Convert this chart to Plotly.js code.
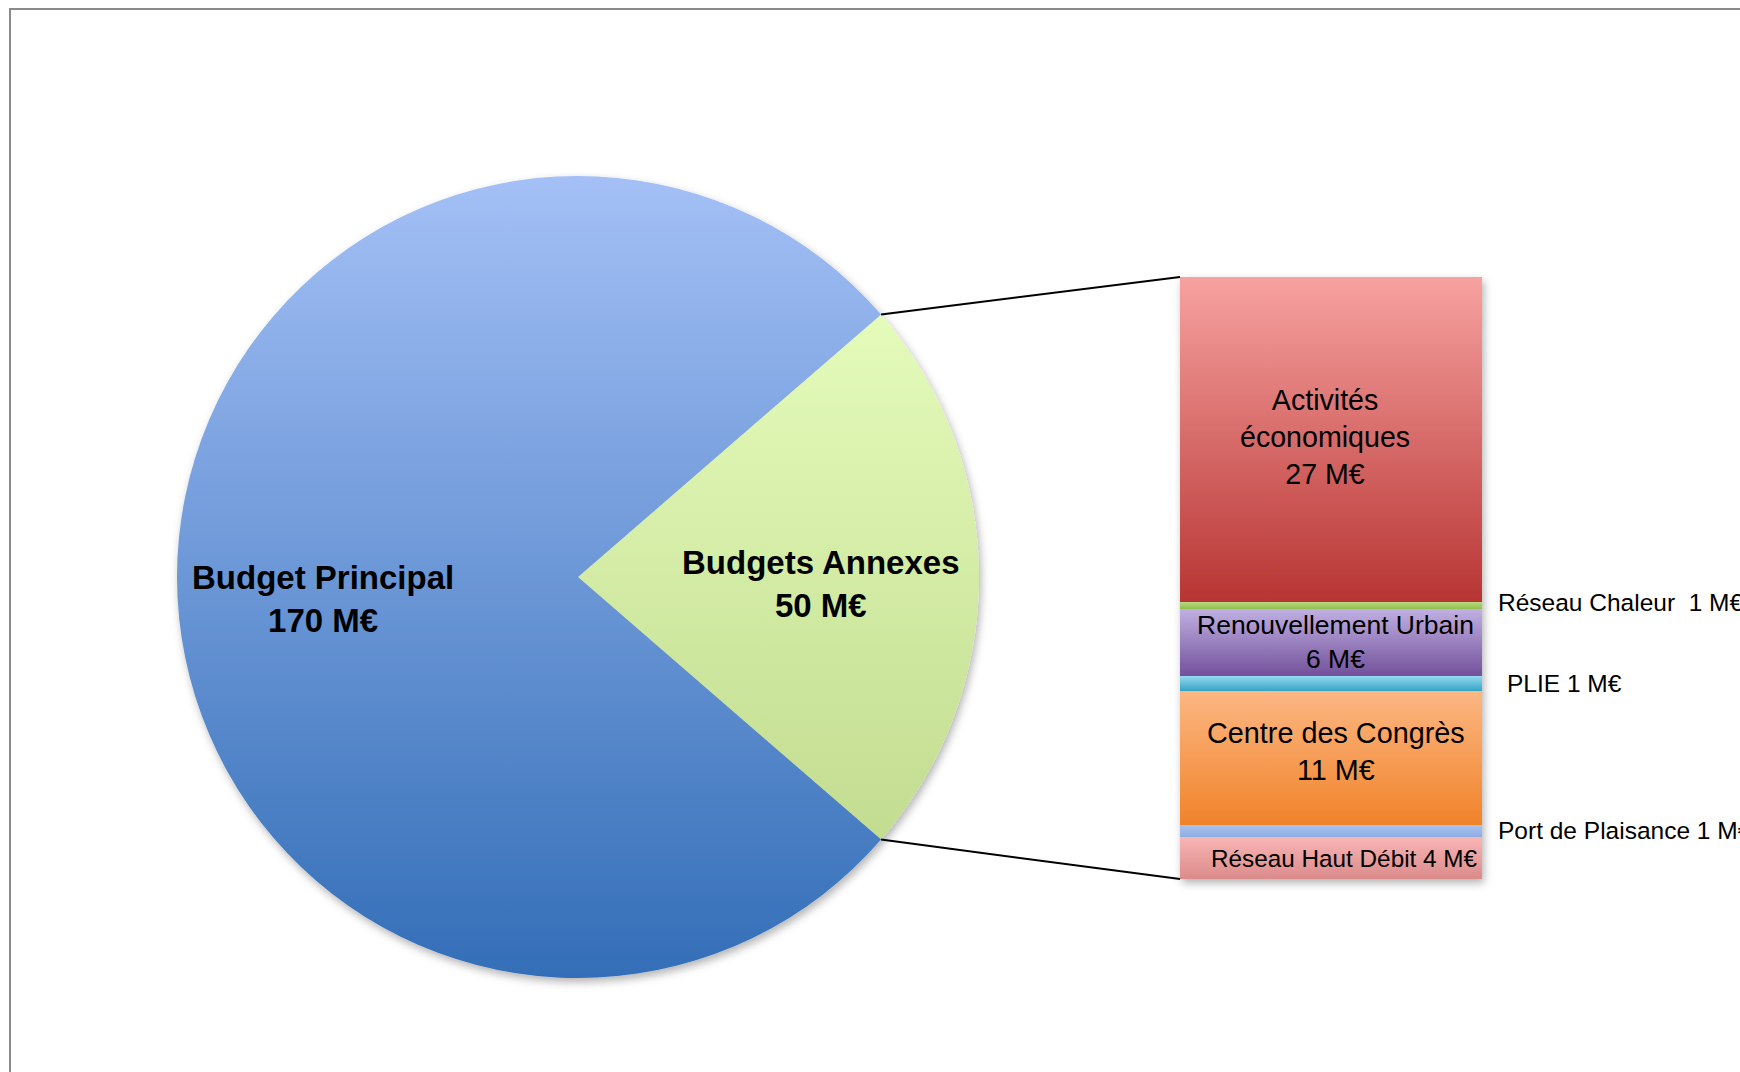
<!DOCTYPE html>
<html><head><meta charset="utf-8">
<script src="https://cdn.plot.ly/plotly-3.0.1.min.js"></script>
<style>html,body{margin:0;padding:0;background:#fff}</style>
</head><body><div id="chart" style="width:1740px;height:1072px"></div>
<script>
// ---- data ----
const pieLabels = ['Budgets Annexes', 'Budget Principal'];
const pieValues = [50, 170];
const pieText = ['Budgets Annexes<br>50 M€', 'Budget Principal<br>170 M€'];

// stacked bar (detail of "Budgets Annexes"), bottom to top
const barLabels = ['Réseau Haut Débit', 'Port de Plaisance', 'Centre des Congrès', 'PLIE',
                   'Renouvellement Urbain', 'Réseau Chaleur', 'Activités économiques'];
const barValues = [3.6, 1.0, 11.4, 1.2, 5.7, 0.6, 27.6];
const barText = ['Réseau Haut Débit 4 M€', 'Port de Plaisance 1 M€', 'Centre des Congrès<br>11 M€',
                 'PLIE 1 M€', 'Renouvellement Urbain<br>6 M€', 'Réseau Chaleur\u00a0 1 M€',
                 'Activités<br>économiques<br>27 M€'];

// ---- styles ----
const W = 1740, H = 1072;
const FONT = 'Liberation Sans, Arial, sans-serif';
const pieGrad = [['#e4fbba', '#c2dc90'], ['#a4c0f6', '#336eb7']];
const barGrad = [['#f9b6b5', '#da8b8a'], ['#a9c3ef', '#8eaee4'], ['#fcb783', '#f1832a'],
                 ['#92d8f0', '#38a5c5'], ['#c0b0e2', '#72509a'], ['#b6d97e', '#8fbe4c'],
                 ['#f7a2a0', '#b73533']];
const barPlace = ['insideRight', 'outside', 'inside', 'outside', 'inside', 'outside', 'inside'];
const barFontSize = [24.3, 24.5, 28.8, 24.5, 26.5, 24.5, 28.6];
const barXShift = [0, 0, 5, 0, 4, 0, -6];
const barYShift = [-1, 0, 6, 0, 1, 3, 3];
const outsideXShift = [0, 0, 0, 9, 0, 0, 0];

const pieDom = {x: [177 / W, 979 / W], y: [94 / H, 896 / H]};
const barDomX = [1180 / W, 1482 / W];
const barDomY = [(H - 879) / H, (H - 277) / H];

const sum = c => c.reduce((a, b) => a + b, 0);
const pieTotal = sum(pieValues);
const barTotal = sum(barValues);

const data = [{
  type: 'pie', labels: pieLabels, values: pieValues, sort: false,
  direction: 'clockwise', rotation: 90 - 180 * pieValues[0] / pieTotal,
  domain: pieDom, textinfo: 'none', hoverinfo: 'none',
  marker: {colors: pieGrad.map(g => g[1]), line: {width: 0}}
}];
barLabels.forEach((lab, i) => {
  data.push({type: 'bar', name: lab, x: [0], y: [barValues[i]], width: 1,
    marker: {color: barGrad[i][1], line: {width: 0}}, hoverinfo: 'none',
    xaxis: 'x', yaxis: 'y'});
});

// annotations
const annotations = [
  {xref: 'paper', yref: 'paper', x: 323 / W, y: 1 - 599 / H, xanchor: 'center', yanchor: 'middle',
   text: pieText[1], showarrow: false, font: {family: FONT, size: 33, weight: 'bold', color: '#000'}},
  {xref: 'paper', yref: 'paper', x: 821 / W, y: 1 - 584 / H, xanchor: 'center', yanchor: 'middle',
   text: pieText[0], showarrow: false, font: {family: FONT, size: 33, weight: 'bold', color: '#000'}}
];
let cum = 0;
barValues.forEach((v, i) => {
  const yc = cum + v / 2; cum += v;
  const a = {yref: 'y', y: yc, yanchor: 'middle', text: barText[i], showarrow: false, yshift: barYShift[i],
             font: {family: FONT, size: barFontSize[i], color: '#000'}};
  if (barPlace[i] === 'outside') {
    Object.assign(a, {xref: 'paper', x: 1496 / W + outsideXShift[i] / W, xanchor: 'left'});
  } else if (barPlace[i] === 'insideRight') {
    Object.assign(a, {xref: 'paper', x: barDomX[1] - 2 / W, xanchor: 'right'});
  } else {
    Object.assign(a, {xref: 'x', x: 0, xanchor: 'center', xshift: barXShift[i]});
  }
  annotations.push(a);
});

// connector lines computed from pie geometry and bar extent
const pw = (pieDom.x[1] - pieDom.x[0]) * W, ph = (pieDom.y[1] - pieDom.y[0]) * H;
const r = Math.min(pw, ph) / 2;
const cx = (pieDom.x[0] + pieDom.x[1]) / 2 * W;
const cy = (1 - (pieDom.y[0] + pieDom.y[1]) / 2) * H;
const half = Math.PI * pieValues[0] / pieTotal;
const pTop = [cx + r * Math.cos(half), cy - r * Math.sin(half)];
const pBot = [cx + r * Math.cos(half), cy + r * Math.sin(half)];
const shapes = [
  {type: 'line', xref: 'paper', yref: 'paper', x0: pTop[0] / W, y0: 1 - pTop[1] / H,
   x1: barDomX[0], y1: barDomY[1], line: {color: '#000', width: 2}},
  {type: 'line', xref: 'paper', yref: 'paper', x0: pBot[0] / W, y0: 1 - pBot[1] / H,
   x1: barDomX[0], y1: barDomY[0], line: {color: '#000', width: 2}},
  {type: 'rect', xref: 'paper', yref: 'paper', x0: 10 / W, x1: 1.05, y0: -0.05, y1: 1 - 9 / H,
   line: {color: '#8a8a8a', width: 2}, fillcolor: 'rgba(0,0,0,0)'}
];

const layout = {
  width: W, height: H, margin: {l: 0, r: 0, t: 0, b: 0},
  paper_bgcolor: '#fff', plot_bgcolor: 'rgba(0,0,0,0)', showlegend: false,
  barmode: 'stack', bargap: 0,
  xaxis: {domain: barDomX, range: [-0.5, 0.5], visible: false, fixedrange: true},
  yaxis: {domain: barDomY, range: [0, barTotal], visible: false, fixedrange: true},
  annotations: annotations, shapes: shapes,
  font: {family: FONT}
};

const gd = document.getElementById('chart');
Plotly.newPlot(gd, data, layout, {staticPlot: true, displayModeBar: false}).then(() => {
  const NS = 'http://www.w3.org/2000/svg';
  const svg = gd.querySelector('svg.main-svg');
  let defs = svg.querySelector('defs');
  if (!defs) { defs = document.createElementNS(NS, 'defs'); svg.insertBefore(defs, svg.firstChild); }
  function grad(id, c1, c2) {
    const g = document.createElementNS(NS, 'linearGradient');
    g.setAttribute('id', id); g.setAttribute('x1', '0'); g.setAttribute('y1', '0');
    g.setAttribute('x2', '0'); g.setAttribute('y2', '1');
    [[0, c1], [1, c2]].forEach(([o, c]) => {
      const s = document.createElementNS(NS, 'stop');
      s.setAttribute('offset', o); s.setAttribute('stop-color', c); g.appendChild(s);
    });
    defs.appendChild(g);
  }
  const f = document.createElementNS(NS, 'filter');
  f.setAttribute('id', 'softshadow'); f.setAttribute('x', '-10%'); f.setAttribute('y', '-10%');
  f.setAttribute('width', '130%'); f.setAttribute('height', '130%');
  const ds = document.createElementNS(NS, 'feDropShadow');
  ds.setAttribute('dx', '2'); ds.setAttribute('dy', '4'); ds.setAttribute('stdDeviation', '4');
  ds.setAttribute('flood-color', '#000'); ds.setAttribute('flood-opacity', '0.3');
  f.appendChild(ds); defs.appendChild(f);

  pieGrad.forEach((g, i) => grad('pg' + i, g[0], g[1]));
  barGrad.forEach((g, i) => grad('bg' + i, g[0], g[1]));
  gd.querySelectorAll('.pielayer .slice path.surface').forEach((p, i) => {
    p.style.fill = 'url(#pg' + i + ')';
  });
  gd.querySelectorAll('.barlayer .trace').forEach((t, i) => {
    t.querySelectorAll('path').forEach(p => { p.style.fill = 'url(#bg' + i + ')'; });
  });
  const pl = gd.querySelector('.pielayer');
  if (pl) pl.setAttribute('filter', 'url(#softshadow)');
  const cl = gd.querySelector('.cartesianlayer');
  if (cl) cl.setAttribute('filter', 'url(#softshadow)');
});
</script></body></html>
